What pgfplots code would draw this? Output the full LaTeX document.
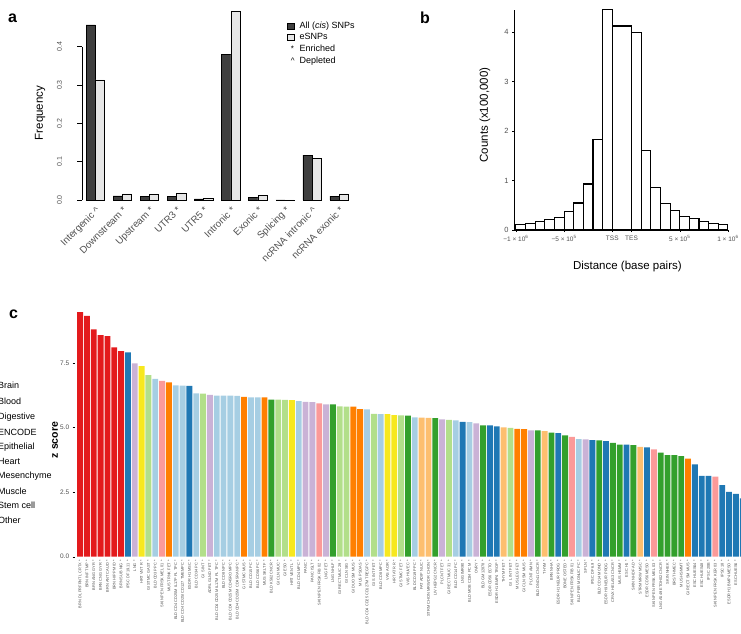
\documentclass[border=0pt]{standalone}
\usepackage{fontspec}
\setmainfont{Liberation Sans}
\usepackage{pgfplots}
\pgfplotsset{compat=1.18}
\definecolor{cBrain}{HTML}{E31A1C}
\definecolor{cBlood}{HTML}{A6CEE3}
\definecolor{cDig}{HTML}{B2DF8A}
\definecolor{cEnc}{HTML}{33A02C}
\definecolor{cEpi}{HTML}{CAB2D6}
\definecolor{cHeart}{HTML}{F7E81E}
\definecolor{cMes}{HTML}{FB9A99}
\definecolor{cMus}{HTML}{FF7F00}
\definecolor{cStem}{HTML}{1F78B4}
\definecolor{cOther}{HTML}{FDBF6F}
\definecolor{darkbar}{HTML}{3F3F3F}
\definecolor{lightbar}{HTML}{E6E6E6}
\definecolor{tickgray}{HTML}{505050}
\begin{document}
\begin{tikzpicture}[x=1pt,y=1pt]
\useasboundingbox (0,0) rectangle (741,633);

% ---------------- panel a ----------------
\begin{axis}[
  at={(81.7pt,433pt)}, anchor=south west, scale only axis,
  width=273.7pt, height=191.7pt,
  xmin=-0.5, xmax=9.6, ymin=0, ymax=0.5,
  axis x line*=bottom, axis y line*=left,
  x axis line style={draw=none}, y axis line style={draw=none},
  ybar=0pt, bar width=9.2pt,
  xtick={0,...,9},
  xticklabels={Intergenic \textasciicircum, Downstream *, Upstream *, UTR3 *, UTR5 *, Intronic *, Exonic *, Splicing *, ncRNA intronic \textasciicircum, ncRNA exonic *},
  xticklabel style={rotate=45, anchor=north east, font=\fontsize{9.8}{10}\selectfont, text=tickgray, inner sep=1pt},
  x tick style={draw=none},
  ytick={0,0.1,0.2,0.3,0.4},
  /pgf/number format/assume math mode=true,
  yticklabel style={rotate=90, anchor=south, font=\fontsize{7}{7}\selectfont, text=tickgray,
    /pgf/number format/fixed, /pgf/number format/fixed zerofill, /pgf/number format/precision=1},
  yticklabel shift=12pt,
  y tick style={black, line width=0.4pt}, tick align=outside, major tick length=4.3pt,
  ylabel={Frequency},
  ylabel style={at={(axis description cs:-0.152,0.454)}, anchor=center, font=\fontsize{11.5}{12}\selectfont},
  legend style={at={(0.75,0.936)}, anchor=north west, draw=none, fill=none,
    font=\fontsize{9}{9}\selectfont, row sep=1.3pt, inner sep=0pt, nodes={inner sep=1.2pt}},
  legend cell align=left,
  clip=false,
]
\addplot[fill=darkbar, draw=black, line width=0.5pt,
  legend image code/.code={\draw[fill=darkbar,draw=black,line width=0.5pt] (0pt,-3pt) rectangle (6.5pt,3pt); \path[draw=none,fill=none] (11pt,0pt) circle[radius=0pt];}]
  coordinates {(0,0.457) (1,0.011) (2,0.010) (3,0.009) (4,0.003) (5,0.379) (6,0.006) (7,0.0006) (8,0.117) (9,0.010)};
\addlegendentry{All (\textit{cis}) SNPs}
\addplot[fill=lightbar, draw=black, line width=0.5pt,
  legend image code/.code={\draw[fill=lightbar,draw=black,line width=0.5pt] (0pt,-3pt) rectangle (6.5pt,3pt); \path[draw=none,fill=none] (11pt,0pt) circle[radius=0pt];}]
  coordinates {(0,0.313) (1,0.016) (2,0.014) (3,0.017) (4,0.005) (5,0.493) (6,0.012) (7,0.0005) (8,0.109) (9,0.016)};
\addlegendentry{eSNPs}
\addlegendimage{legend image code/.code={\node[inner sep=0pt,font=\fontsize{8}{8}\selectfont] at (3.2pt,0) {*}; \path[draw=none,fill=none] (0pt,0pt) circle[radius=0pt] (11pt,0pt) circle[radius=0pt];}}
\addlegendentry{Enriched}
\addlegendimage{legend image code/.code={\node[inner sep=0pt,font=\fontsize{8}{8}\selectfont] at (3.2pt,-1pt) {\textasciicircum}; \path[draw=none,fill=none] (0pt,0pt) circle[radius=0pt] (11pt,0pt) circle[radius=0pt];}}
\addlegendentry{Depleted}
\draw[black, line width=0.4pt] (axis cs:-0.5,0) -- (axis cs:-0.5,0.4);
\end{axis}

% ---------------- panel b ----------------
\begin{axis}[
  at={(514pt,403pt)}, anchor=south west, scale only axis,
  width=213.9pt, height=220.3pt,
  xmin=-10.2, xmax=12, ymin=0, ymax=4.45,
  axis x line*=bottom, axis y line*=left,
  axis line style={line width=0.6pt},
  xtick={-10,-5,0,2,7,12},
  xticklabels={−1 × 10\textsuperscript{6}, −5 × 10\textsuperscript{5}, TSS, TES, 5 × 10\textsuperscript{5}, 1 × 10\textsuperscript{6}},
  xticklabel style={font=\fontsize{6.5}{7}\selectfont, text=tickgray},
  ytick={0,1,2,3,4},
  /pgf/number format/assume math mode=true,
  yticklabel style={font=\fontsize{7.5}{8}\selectfont, text=tickgray},
  tick style={black, line width=0.4pt}, tick align=outside, major tick length=2pt,
  xlabel={Distance (base pairs)},
  xlabel style={at={(axis description cs:0.53,-0.167)}, anchor=center, font=\fontsize{11.5}{12}\selectfont},
  ylabel={Counts (x100,000)},
  ylabel style={at={(axis description cs:-0.1356,0.522)}, anchor=center, font=\fontsize{11.5}{12}\selectfont},
  clip=false,
]
\addplot[ybar interval, fill=white, draw=black, line width=1.1pt]
  coordinates {(-10,0.114) (-9,0.135) (-8,0.175) (-7,0.215) (-6,0.256) (-5,0.377) (-4,0.545) (-3,0.93) (-2,1.825) (-1,4.45) (0,4.12) (2,3.99) (3,1.6) (4,0.85) (5,0.54) (6,0.39) (7,0.276) (8,0.236) (9,0.168) (10,0.135) (11,0.114) (12,0.114)};
\end{axis}

% ---------------- panel c ----------------
\begin{axis}[
  at={(75.2pt,76.3pt)}, anchor=south west, scale only axis,
  width=665.9pt, height=247.7pt,
  xmin=-0.72, xmax=96.77, ymin=0, ymax=9.6,
  axis x line*=bottom, axis y line*=left,
  axis line style={draw=none},
  ybar, bar width=5.85pt,
  every axis plot post/.append style={bar shift=0pt},
  ytick={0,2.5,5,7.5},
  /pgf/number format/assume math mode=true,
  yticklabel style={font=\fontsize{6.5}{7}\selectfont, text=tickgray,
    /pgf/number format/fixed, /pgf/number format/fixed zerofill, /pgf/number format/precision=1},
  y tick style={black, line width=0.4pt}, tick align=outside, major tick length=2.5pt,
  x tick style={draw=none},
  xtick={0,...,97},
  xticklabels={BRN DL PRFRNTL CRTX *, BRN INF TMP *, BRN ANG GYR *, BRN CNG GYR *, BRN ANT CAUD *, BRN HIPP MID *, BRN SUB NIG *, IPSC DF 19.11 *, LNG *, HRT VNT R *,
    GI STMC GAST *, BLD CD3 PPC *, SKIN PEN FRSK MEL 01 *, MUS TRNK FET *, BLD CD4 CD25M IL17P PL TPC *, BLD CD4 CD25I CD127 TMEMPC *, ESDR H1 MSC *, BLD CD34 PC *, GI S INT *, ADRL GLND FET *,
    BLD CD4 CD25M IL17M PL TPC *, BLD CD8 NPC *, BLD CD4 CD25M CD45RO MPC *, BLD CD4 CD25M CD45RA NPC *, GI STMC MUS *, BLD CD15 PC *, BLD CD56 PC *, MUS SKLT F *, BLD K562 CNCR *, GI CLN MUC *,
    GI ESO *, HRT VENT L *, BLD CD4 MPC *, PANC *, PANC ISLT *, SKIN PEN FRSK FIB 02 *, LNG FET *, LNG NHLF *, GI RECT MUC 29 *, GI CLN SIG *,
    GI DUO SM MUS *, MUS PSOAS *, BLD CD4 CD25 CD127M TREGPC *, GI S INT FET *, BLD CD8 MPC *, VAS AOR *, HRT ATR R *, GI STMC FET *, VAS HUVEC *, BLD CD19 PPC *,
    FAT ADIP NUC *, STRM CHON MRW DR CHON *, LIV HEPG2 CNCR *, PLCNT FET *, GI RECT MUC 31 *, BLD CD14 PC *, LNG IMR90 *, BLD MOB CD34 PC M *, OVRY *, BLD GM12878 *,
    ESDR CD56 ECTO *, ESDR H1 BMP4 TROP *, THYM FET *, GI L INT FET *, MUS LEG FET *, GI CLN SM MUS *, PLCNT AMN *, BLD DND41 CNCR *, THYM *, BRN NHA *,
    ESDR H1 NEUR PROG *, BONE OSTEO *, SKIN PEN FRSK FIB 01 *, BLD PER MONUC PC *, SPLN *, IPSC DF 6.9 *, BLD CD14 MONO *, ESDR H9 NEUR PROG *, CRVX HELAS3 CNCR *, MUS HSMM *,
    ESC H1 *, SKIN NHDF AD *, STRM MRW MSC *, ESDR CD56 MESO *, SKIN PEN FRSK MEL 03 *, LNG A549 ETOH02 CNCR *, SKIN NHEK *, BRST HMEC *, MUS HSMMT *, GI RECT SM MUS *,
    ESC HUES64 *, ESC HUES48 *, IPSC 20B *, SKIN PEN FRSK KER 03 *, IPSC 18 *, ESDR H1 BMP4 MESO *, ESC HUES6 *, IPSC 15B *},
  xticklabel style={rotate=90, anchor=east, font=\fontsize{3.9}{4}\selectfont, text=tickgray, inner sep=1pt},
  ylabel={\textbf{z score}},
  ylabel style={at={(axis description cs:-0.0303,0.471)}, anchor=center, font=\fontsize{10.5}{11}\selectfont},
]
\addplot[fill=cBrain, draw=none] coordinates {(0,9.48)(1,9.33)(2,8.81)(3,8.59)(4,8.55)(5,8.11)(6,7.97)};
\addplot[fill=cBlood, draw=none] coordinates {(11,6.89)(14,6.64)(15,6.63)(17,6.33)(20,6.24)(21,6.24)(22,6.24)(23,6.23)(25,6.18)(26,6.18)(32,6.03)(42,5.71)(44,5.53)(49,5.40)(55,5.28)(57,5.22)(73,4.56)};
\addplot[fill=cDig, draw=none] coordinates {(10,7.04)(18,6.32)(29,6.09)(30,6.08)(38,5.83)(39,5.82)(43,5.54)(47,5.48)(54,5.30)(63,4.99)};
\addplot[fill=cEnc, draw=none] coordinates {(28,6.09)(37,5.90)(48,5.47)(52,5.37)(59,5.09)(67,4.90)(69,4.81)(71,4.70)(76,4.51)(78,4.41)(79,4.34)(81,4.32)(85,4.03)(86,3.94)(87,3.94)(88,3.90)};
\addplot[fill=cEpi, draw=none] coordinates {(8,7.49)(19,6.27)(33,6.00)(34,5.99)(36,5.90)(53,5.32)(58,5.17)(66,4.90)(74,4.55)};
\addplot[fill=cHeart, draw=none] coordinates {(9,7.39)(31,6.07)(45,5.53)(46,5.49)};
\addplot[fill=cMes, draw=none] coordinates {(12,6.81)(35,5.94)(72,4.64)(84,4.16)(93,3.10)};
\addplot[fill=cMus, draw=none] coordinates {(13,6.76)(24,6.19)(27,6.18)(40,5.82)(41,5.72)(64,4.95)(65,4.94)(89,3.80)};
\addplot[fill=cStem, draw=none] coordinates {(7,7.92)(16,6.62)(56,5.23)(60,5.09)(61,5.05)(70,4.79)(75,4.52)(77,4.48)(80,4.34)(83,4.24)(90,3.58)(91,3.13)(92,3.13)(94,2.77)(95,2.51)(96,2.44)(97,2.26)};
\addplot[fill=cOther, draw=none] coordinates {(50,5.39)(51,5.38)(62,5.01)(68,4.87)(82,4.26)};
\end{axis}

% legend labels of panel c (swatches fall outside the page, as in the reference)
\begin{scope}[every node/.style={anchor=west, inner sep=0pt, font=\fontsize{9}{9}\selectfont}]
\node at (-2,247.3) {Brain};
\node at (-2,231.3) {Blood};
\node at (-2,215.5) {Digestive};
\node at (-2,201) {ENCODE};
\node at (-2,186) {Epithelial};
\node at (-2,171.3) {Heart};
\node at (-2,156.5) {Mesenchyme};
\node at (-2,142) {Muscle};
\node at (-2,128) {Stem cell};
\node at (-2,112.5) {Other};
\end{scope}

% panel letters
\node[anchor=west, inner sep=0pt, font=\bfseries\fontsize{16}{16}\selectfont] at (8,615) {a};
\node[anchor=west, inner sep=0pt, font=\bfseries\fontsize{16}{16}\selectfont] at (420,615) {b};
\node[anchor=west, inner sep=0pt, font=\bfseries\fontsize{16}{16}\selectfont] at (9,319) {c};
\end{tikzpicture}
\end{document}
